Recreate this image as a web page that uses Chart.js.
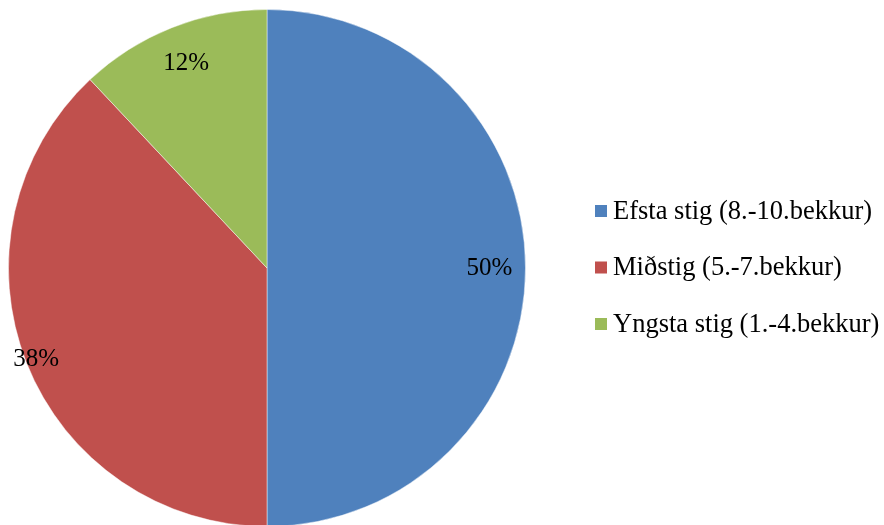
<!DOCTYPE html>
<html>
<head>
<meta charset="utf-8">
<script src="https://cdn.jsdelivr.net/npm/chart.js@4.4.1/dist/chart.umd.min.js"></script>
<style>
html,body{margin:0;padding:0;background:#fff;overflow:hidden;}
#wrap{width:884px;height:530px;}
</style>
</head>
<body>
<div id="wrap"><canvas id="c" width="884" height="530"></canvas></div>
<script>
const categories = ['Efsta stig (8.-10.bekkur)', 'Miðstig (5.-7.bekkur)', 'Yngsta stig (1.-4.bekkur)'];
const values = [50, 38, 12];
const valueLabels = ['50%', '38%', '12%'];
const colors = ['#4F81BD', '#C0504D', '#9BBB59'];
const labelRadiusFactor = [0.86, 0.96, 0.85];

const FONT = '"Liberation Serif", "Times New Roman", serif';

const overlay = {
  id: 'overlay',
  afterDatasetsDraw(chart) {
    const ctx = chart.ctx;
    const meta = chart.getDatasetMeta(0);
    ctx.save();
    ctx.fillStyle = '#000';
    ctx.font = '25px ' + FONT;
    ctx.textAlign = 'center';
    ctx.textBaseline = 'middle';
    meta.data.forEach((arc, i) => {
      const p = arc.getProps(['x','y','startAngle','endAngle','outerRadius'], true);
      const mid = (p.startAngle + p.endAngle) / 2;
      const r = p.outerRadius * labelRadiusFactor[i];
      ctx.fillText(valueLabels[i], p.x + Math.cos(mid) * r, p.y + Math.sin(mid) * r);
    });
    // legend
    ctx.font = '26.5px ' + FONT;
    ctx.textAlign = 'left';
    const x0 = 595, y0 = 211, dy = 56.5;
    categories.forEach((c, i) => {
      const y = y0 + i * dy;
      ctx.fillStyle = colors[i];
      ctx.fillRect(x0, y - 6, 12, 12);
      ctx.fillStyle = '#000';
      ctx.fillText(c, x0 + 18, y + 1);
    });
    ctx.restore();
  }
};

new Chart(document.getElementById('c'), {
  type: 'pie',
  data: {
    labels: categories,
    datasets: [{
      data: values,
      backgroundColor: colors,
      borderColor: 'rgba(255,255,255,0.45)',
      borderWidth: 1
    }]
  },
  options: {
    responsive: false,
    animation: false,
    layout: { padding: { left: 8, top: 9, right: 358, bottom: 3 } },
    plugins: {
      legend: { display: false },
      tooltip: { enabled: false }
    }
  },
  plugins: [overlay]
});
</script>
</body>
</html>
